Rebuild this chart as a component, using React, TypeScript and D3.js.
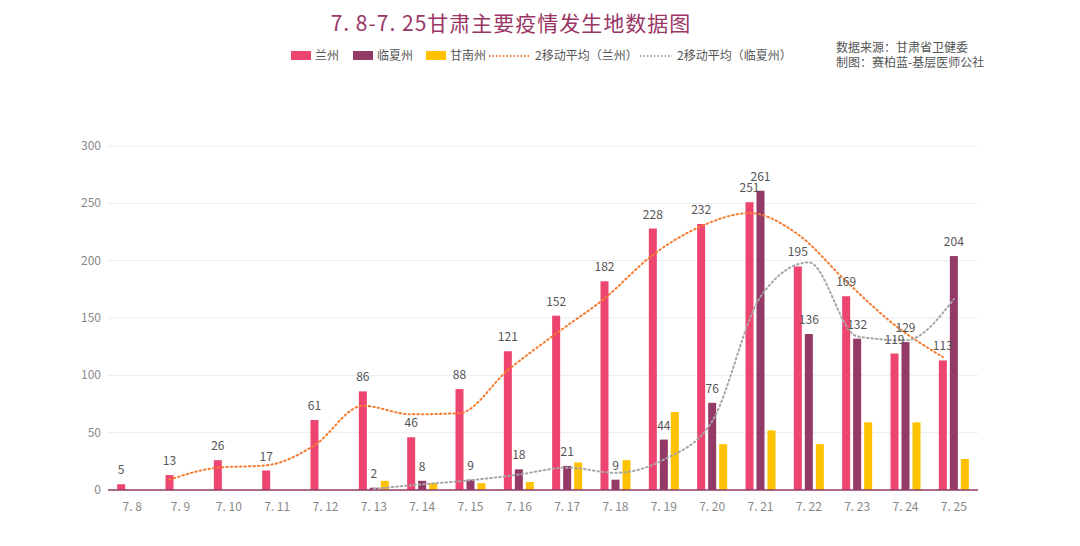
import React from "react";
import * as d3 from "d3";

const dates = ["7.8","7.9","7.10","7.11","7.12","7.13","7.14","7.15","7.16","7.17","7.18","7.19","7.20","7.21","7.22","7.23","7.24","7.25"];
const lanzhou = [5,13,26,17,61,86,46,88,121,152,182,228,232,251,195,169,119,113];
const linxia: (number | null)[] = [null,null,null,null,null,2,8,9,18,21,9,44,76,261,136,132,129,204];
const gannan: (number | null)[] = [null,null,null,null,null,8,6,6,7,24,26,68,40,52,40,59,59,27];
const yTicks = [0,50,100,150,200,250,300];

const C_LZ = "#ee4570";
const C_LX = "#933a66";
const C_GN = "#fec200";
const C_MA1 = "#f47c30";
const C_MA2 = "#a6a6a6";

const W = 1080, H = 546;
const left = 108, right = 978, top = 146, bottom = 490;
const font = "'Noto Sans CJK SC', 'Noto Sans', sans-serif";

const x = d3.scaleBand<string>().domain(dates).range([left, right]);
const y = d3.scaleLinear().domain([0, 300]).range([bottom, top]);
const bw = 8, gap = 3;
const off = [-(bw + gap), 0, bw + gap];
const cx = (i: number, k: number) => x(dates[i])! + x.bandwidth() / 2 + off[k];

// 2-period moving average; missing previous value counts as 0
function ma(arr: (number | null)[]) {
  return arr.map((v, i) => (i === 0 || v == null ? null : ((arr[i - 1] ?? 0) + v) / 2));
}
const maLz = ma(lanzhou);
const maLx = linxia.map((v, i) => (v == null ? null : ((linxia[i - 1] ?? 0) + v) / 2));

function path(vals: (number | null)[], k: number) {
  const pts = vals.map((v, i) => [i, v] as [number, number | null]).filter((d) => d[1] != null) as [number, number][];
  return d3.line<[number, number]>().x((d) => cx(d[0], k)).y((d) => y(d[1])).curve(d3.curveMonotoneX)(pts)!;
}

export default function App() {
  const series = [lanzhou, linxia, gannan];
  const colors = [C_LZ, C_LX, C_GN];
  return (
    <svg width={W} height={H} style={{ position: "absolute", left: 0, top: 0, background: "#fff" }} fontFamily={font}>
      <text x={511} y={31} textAnchor="middle" fontSize={21} letterSpacing={1} fill="#9a3565">7. 8-7. 25甘肃主要疫情发生地数据图</text>
      <g fontSize={12} fill="#555">
        <rect x={291} y={51} width={20} height={9} fill={C_LZ} />
        <text x={315} y={60}>兰州</text>
        <rect x={353} y={51} width={20} height={9} fill={C_LX} />
        <text x={377} y={60}>临夏州</text>
        <rect x={426} y={51} width={20} height={9} fill={C_GN} />
        <text x={450} y={60}>甘南州</text>
        <line x1={489} x2={530} y1={56} y2={56} stroke={C_MA1} strokeWidth={2} strokeDasharray="1.5 2" />
        <text x={535} y={60}>2移动平均（兰州）</text>
        <line x1={640} x2={672} y1={56} y2={56} stroke={C_MA2} strokeWidth={2} strokeDasharray="1.5 2" />
        <text x={677} y={60}>2移动平均（临夏州）</text>
        <text x={836} y={52}>数据来源：甘肃省卫健委</text>
        <text x={836} y={67}>制图：赛柏蓝-基层医师公社</text>
      </g>
      {yTicks.map((t) => (
        <g key={t}>
          {t > 0 && <line x1={left} x2={right} y1={y(t)} y2={y(t)} stroke="#ececec" />}
          <text x={101} y={y(t) + 4} textAnchor="end" fontSize={12} fill="#888">{t}</text>
        </g>
      ))}
      {series.map((s, k) =>
        s.map((v, i) =>
          v == null ? null : (
            <rect key={`${k}-${i}`} x={cx(i, k) - bw / 2} y={y(v)} width={bw} height={bottom - y(v)} fill={colors[k]} />
          )
        )
      )}
      <line x1={left} x2={right} y1={bottom} y2={bottom} stroke="#933a66" strokeWidth={1.5} />
      {dates.map((d) => (
        <text key={d} x={x(d)! + x.bandwidth() / 2} y={511} textAnchor="middle" fontSize={12} fill="#888">
          {d.replace(".", ". ")}
        </text>
      ))}
      <path d={path(maLz, 0)} fill="none" stroke={C_MA1} strokeWidth={2} strokeDasharray="1.5 3" strokeLinecap="round" />
      <path d={path(maLx, 1)} fill="none" stroke={C_MA2} strokeWidth={2} strokeDasharray="1.5 3" strokeLinecap="round" />
      <g fontSize={12} fill="#555" textAnchor="middle">
        {lanzhou.map((v, i) => (
          <text key={`l${i}`} x={cx(i, 0)} y={y(v) - 10}>{v}</text>
        ))}
        {linxia.map((v, i) =>
          v == null ? null : <text key={`x${i}`} x={cx(i, 1)} y={y(v) - 10}>{v}</text>
        )}
      </g>
    </svg>
  );
}
